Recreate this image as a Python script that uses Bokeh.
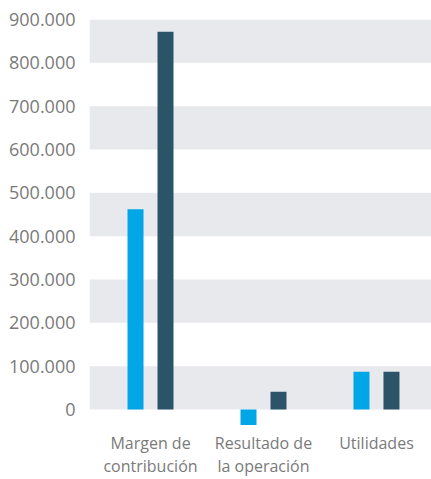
from bokeh.plotting import figure
from bokeh.models import ColumnDataSource, Range1d, FixedTicker, BoxAnnotation
from bokeh.transform import dodge
from bokeh.embed import file_html
from bokeh.resources import INLINE

# ---- data ----
categories = ["Margen de\ncontribución", "Resultado de\nla operación", "Utilidades"]
serie_a = [462000, -36000, 87000]   # light blue
serie_b = [872000, 41000, 87000]    # dark slate
y_ticks = [0, 100000, 200000, 300000, 400000, 500000, 600000, 700000, 800000, 900000]
y_tick_labels = ["0", "100.000", "200.000", "300.000", "400.000", "500.000",
                 "600.000", "700.000", "800.000", "900.000"]

LIGHT = "#00A6E6"
DARK = "#2C5468"
BAND = "#E8E9ED"
TEXT = "#7A7A7A"
FONT = "Open Sans"

idx = list(range(len(categories)))
src = ColumnDataSource(dict(x=idx, a=serie_a, b=serie_b))

p = figure(frame_width=342, frame_height=406,
           x_range=Range1d(-0.54, 2.487), y_range=Range1d(-37000, 900000),
           output_backend="svg", toolbar_location=None,
           min_border_left=89, min_border_right=0, min_border_top=19, min_border_bottom=54)

# alternating bands
for i in range(0, len(y_ticks) - 1, 2):
    p.add_layout(BoxAnnotation(bottom=y_ticks[i], top=y_ticks[i + 1],
                               fill_color=BAND, fill_alpha=1.0, line_alpha=0,
                               level="underlay"))

p.vbar(x=dodge("x", -0.1327, range=p.x_range), top="a", bottom=0, width=0.1416,
       source=src, fill_color=LIGHT, line_color=None)
p.vbar(x=dodge("x", 0.1327, range=p.x_range), top="b", bottom=0, width=0.1416,
       source=src, fill_color=DARK, line_color=None)

p.xgrid.visible = False
p.ygrid.visible = False
p.outline_line_color = None

ya = p.yaxis[0]
ya.ticker = FixedTicker(ticks=y_ticks)
ya.major_label_overrides = {t: l for t, l in zip(y_ticks, y_tick_labels)}
ya.axis_line_color = None
ya.major_tick_line_color = None
ya.minor_tick_line_color = None
ya.major_label_standoff = 8
ya.major_label_text_font = FONT
ya.major_label_text_font_size = "18px"
ya.major_label_text_color = TEXT

xa = p.xaxis[0]
xa.ticker = FixedTicker(ticks=idx)
xa.major_label_overrides = {i: c for i, c in zip(idx, categories)}
xa.axis_line_color = None
xa.major_tick_line_color = None
xa.minor_tick_line_color = None
xa.major_label_standoff = 0
xa.major_label_text_font = FONT
xa.major_label_text_font_size = "16px"
xa.major_label_text_line_height = 1.05
xa.major_label_text_color = TEXT

open("out.html", "w").write(file_html(p, INLINE))
